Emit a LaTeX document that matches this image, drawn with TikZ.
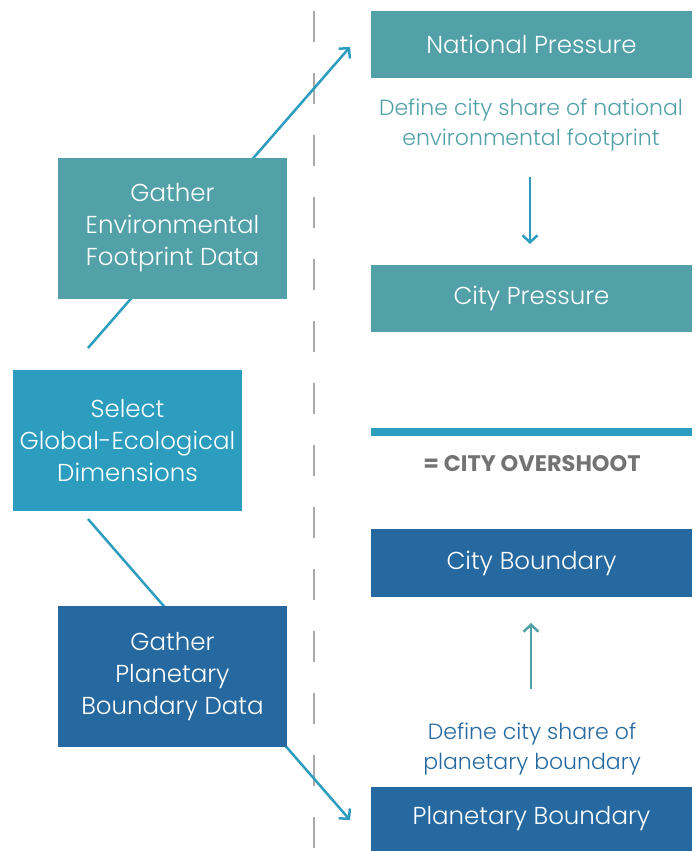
\documentclass[tikz,border=0pt]{standalone}
\usepackage{fontspec}
\IfFontExistsTF{Poppins Light}{\setmainfont{Poppins}[UprightFont=* Light,BoldFont=* Bold]}{\setmainfont{Poppins}}
\usetikzlibrary{arrows.meta,positioning}
\definecolor{fpteal}{RGB}{82,161,168}
\definecolor{selblue}{RGB}{44,157,190}
\definecolor{pbblue}{RGB}{38,105,160}
\definecolor{osgray}{RGB}{115,115,115}
\definecolor{divgray}{RGB}{170,170,170}
\tikzset{
  box/.style={rectangle,inner sep=0pt,outer sep=0pt,text=white,align=center,font=\fontsize{24.5}{32}\selectfont},
  wide/.style={box,minimum width=321pt,minimum height=67pt},
  tall/.style={box,minimum width=229pt,minimum height=141pt},
  note/.style={align=center,inner sep=0pt,font=\fontsize{22}{29.5}\selectfont},
  link/.style={line width=2.5pt,draw=selblue,-{Straight Barb[length=7pt,width=15pt]}},
}
\begin{document}
\begin{tikzpicture}[x=1pt,y=-1pt]
\useasboundingbox (0,0) rectangle (699,851);
\draw[divgray,line width=2pt,dash pattern=on 31pt off 31pt] (314,11) -- (314,851);

\coordinate (envA) at (88,348);
\coordinate (envB) at (350,47);
\coordinate (pbA) at (88,519);
\coordinate (pbB) at (350,820);
\draw[link] (envA) -- (envB);
\draw[link] (pbA) -- (pbB);

\draw (172.5,228) node[tall,fill=fpteal] (envdata) {Gather\\Environmental\\Footprint Data};
\draw (127.5,440.5) node[tall,fill=selblue] (select) {Select\\Global-Ecological\\Dimensions};
\draw (172.5,676.5) node[tall,fill=pbblue] (pbdata) {Gather\\Planetary\\Boundary Data};

\draw (531.5,44.5) node[wide,fill=fpteal] (natp) {National Pressure};
\draw (531,125) node[note,text=fpteal] (natshare) {Define city share of national\\environmental footprint};
\draw (531.5,298.5) node[wide,fill=fpteal] (cityp) {City Pressure};
\coordinate (dnA) at (530,177);
\coordinate (dnB) at (530,244);
\draw[link] (dnA) -- (dnB);

\coordinate (ovA) at (371,432);
\coordinate (ovB) at (692,432);
\draw[selblue,line width=8pt] (ovA) -- (ovB);
\draw (532,464) node[inner sep=0pt,text=osgray,font=\fontsize{22.5}{26}\selectfont\bfseries] (overshoot) {= CITY OVERSHOOT};

\draw (531.5,563) node[wide,fill=pbblue,minimum height=68pt] (cityb) {City Boundary};
\coordinate (upA) at (531,689);
\coordinate (upB) at (531,623);
\draw[link,draw=fpteal] (upA) -- (upB);
\draw (532,749) node[note,text=pbblue] (pbshare) {Define city share of\\planetary boundary};
\draw (531.5,819) node[wide,fill=pbblue,minimum height=64pt] (planb) {Planetary Boundary};
\end{tikzpicture}
\end{document}
